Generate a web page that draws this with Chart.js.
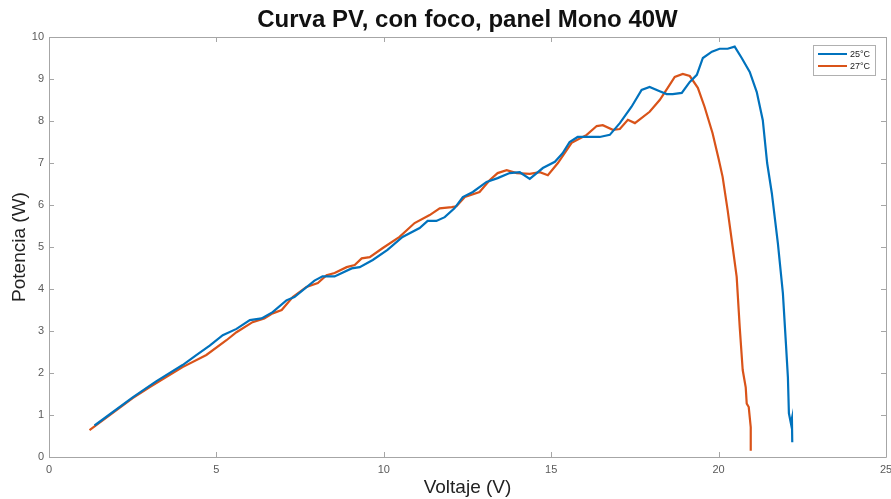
<!DOCTYPE html>
<html>
<head>
<meta charset="utf-8">
<script src="https://cdn.jsdelivr.net/npm/chart.js@4.4.1/dist/chart.umd.min.js"></script>
<style>
  html, body { margin: 0; padding: 0; background: #fff; }
  #wrap { width: 891px; height: 499px; position: relative; }
</style>
</head>
<body>
<div id="wrap"><canvas id="pvChart"></canvas></div>
<script>
const seriesLabels = ['25°C', '27°C'];
const seriesColors = ['#0072BD', '#D95319'];

// 25°C sweep
const volt25 = [1.36, 2.5, 3.2, 3.99, 4.41, 4.8, 5.19, 5.6, 6.0, 6.35, 6.68, 7.09, 7.33, 7.93, 8.17, 8.53,
  9.04, 9.28, 9.67, 10.11, 10.56, 11.07, 11.31, 11.57, 11.82, 12.11, 12.36, 12.66, 13.07, 13.4, 13.76,
  14.06, 14.36, 14.75, 15.11, 15.34, 15.55, 15.79, 16.45, 16.75, 17.05, 17.4, 17.7, 17.94, 18.24, 18.45,
  18.63, 18.9, 19.14, 19.35, 19.53, 19.8, 20.03, 20.27, 20.48, 20.69, 20.93, 21.14, 21.32, 21.45, 21.59,
  21.77, 21.92, 22.01, 22.07, 22.1, 22.16, 22.19, 22.2];
const pot25 = [0.75, 1.42, 1.8, 2.19, 2.43, 2.65, 2.9, 3.05, 3.26, 3.3, 3.45, 3.73, 3.81, 4.2, 4.3, 4.3,
  4.49, 4.52, 4.69, 4.93, 5.24, 5.45, 5.62, 5.62, 5.71, 5.92, 6.19, 6.31, 6.55, 6.64, 6.76,
  6.78, 6.62, 6.88, 7.03, 7.23, 7.5, 7.62, 7.62, 7.67, 7.95, 8.34, 8.74, 8.81, 8.71, 8.64,
  8.64, 8.67, 8.93, 9.1, 9.5, 9.65, 9.72, 9.72, 9.77, 9.5, 9.17, 8.69, 8.02, 7.0, 6.28,
  5.09, 3.9, 2.71, 1.9, 1.04, 0.8, 0.92, 0.35];

// 27°C sweep
const volt27 = [1.21, 2.5, 3.0, 3.99, 4.7, 5.3, 5.6, 6.08, 6.43, 6.68, 6.95, 7.28, 7.69, 8.03, 8.29, 8.53,
  8.89, 9.13, 9.34, 9.58, 9.96, 10.47, 10.92, 11.37, 11.67, 12.03, 12.17, 12.42, 12.86, 13.16, 13.4,
  13.67, 13.97, 14.36, 14.66, 14.9, 15.2, 15.61, 16.06, 16.36, 16.54, 16.84, 17.05, 17.29, 17.5, 17.94,
  18.24, 18.48, 18.69, 18.93, 19.14, 19.38, 19.58, 19.82, 20.0, 20.12, 20.27, 20.42, 20.54, 20.63, 20.72,
  20.81, 20.84, 20.9, 20.96, 20.96];
const pot27 = [0.64, 1.4, 1.66, 2.14, 2.43, 2.78, 2.97, 3.21, 3.3, 3.42, 3.5, 3.81, 4.05, 4.14, 4.33, 4.38,
  4.52, 4.57, 4.73, 4.76, 4.97, 5.24, 5.57, 5.76, 5.92, 5.95, 5.97, 6.19, 6.31, 6.59, 6.76,
  6.83, 6.76, 6.74, 6.78, 6.71, 7.0, 7.48, 7.67, 7.88, 7.9, 7.79, 7.81, 8.03, 7.95, 8.22,
  8.5, 8.79, 9.05, 9.12, 9.07, 8.79, 8.34, 7.71, 7.1, 6.67, 5.88, 5.0, 4.29, 3.1, 2.07,
  1.66, 1.27, 1.19, 0.71, 0.15];

const xTicks = [0, 5, 10, 15, 20, 25];
const yTicks = [0, 1, 2, 3, 4, 5, 6, 7, 8, 9, 10];

const toPoints = (xs, ys) => xs.map((x, i) => ({ x: x, y: ys[i] }));

const fontFamily = '"Liberation Sans", Arial, sans-serif';
const axisGray = '#a6a6a6';
const labelGray = '#5a5a5a';

// box around the plot, inward ticks on all four sides, title and legend
const framePlugin = {
  id: 'frame',
  afterDraw(chart) {
    const { ctx, chartArea: a, scales } = chart;
    ctx.save();
    ctx.strokeStyle = axisGray;
    ctx.lineWidth = 1;
    ctx.beginPath();
    ctx.rect(a.left + 0.5, a.top + 0.5, a.right - a.left, a.bottom - a.top);
    ctx.stroke();
    const len = 5;
    ctx.beginPath();
    xTicks.forEach(v => {
      const px = Math.round(scales.x.getPixelForValue(v)) + 0.5;
      ctx.moveTo(px, a.bottom); ctx.lineTo(px, a.bottom - len);
      ctx.moveTo(px, a.top); ctx.lineTo(px, a.top + len);
    });
    yTicks.forEach(v => {
      const py = Math.round(scales.y.getPixelForValue(v)) + 0.5;
      ctx.moveTo(a.left, py); ctx.lineTo(a.left + len, py);
      ctx.moveTo(a.right, py); ctx.lineTo(a.right - len, py);
    });
    ctx.stroke();

    // title
    ctx.fillStyle = '#111';
    ctx.font = 'bold 24px ' + fontFamily;
    ctx.textAlign = 'center';
    ctx.textBaseline = 'middle';
    ctx.fillText('Curva PV, con foco, panel Mono 40W', (a.left + a.right) / 2, 20.5);

    // legend box in the upper right corner
    const bx = a.right - 73, by = a.top + 8, bw = 62, bh = 30;
    ctx.fillStyle = '#fff';
    ctx.fillRect(bx, by, bw, bh);
    ctx.strokeStyle = '#b0b0b0';
    ctx.lineWidth = 1;
    ctx.strokeRect(bx + 0.5, by + 0.5, bw, bh);
    ctx.font = '9px ' + fontFamily;
    ctx.textAlign = 'left';
    chart.data.datasets.forEach((ds, i) => {
      const y = by + 9 + i * 12;
      ctx.strokeStyle = ds.borderColor;
      ctx.lineWidth = 2;
      ctx.beginPath();
      ctx.moveTo(bx + 5, y); ctx.lineTo(bx + 34, y);
      ctx.stroke();
      ctx.fillStyle = '#222';
      ctx.fillText(ds.label, bx + 37, y + 1);
    });
    ctx.restore();
  }
};

new Chart(document.getElementById('pvChart'), {
  type: 'line',
  data: {
    datasets: [
      { label: seriesLabels[0], data: toPoints(volt25, pot25), borderColor: seriesColors[0] },
      { label: seriesLabels[1], data: toPoints(volt27, pot27), borderColor: seriesColors[1] }
    ]
  },
  options: {
    responsive: true,
    maintainAspectRatio: false,
    animation: false,
    events: [],
    layout: { padding: { top: 37, right: 5, left: 0, bottom: 0 } },
    elements: {
      line: { borderWidth: 2.2, tension: 0, fill: false },
      point: { radius: 0 }
    },
    plugins: {
      legend: { display: false },
      tooltip: { enabled: false },
      title: { display: false }
    },
    scales: {
      x: {
        type: 'linear',
        min: 0, max: 25,
        afterBuildTicks: s => { s.ticks = xTicks.map(v => ({ value: v })); },
        afterFit: s => { s.height = 42; s.paddingLeft = 0; s.paddingRight = 0; },
        grid: { display: false, drawTicks: false },
        border: { display: false },
        ticks: { padding: 6, color: labelGray, font: { size: 11, family: fontFamily }, maxRotation: 0 },
        title: {
          display: true, text: 'Voltaje (V)', color: '#222',
          font: { size: 19, family: fontFamily },
          padding: { top: 0, bottom: 0 }
        }
      },
      y: {
        min: 0, max: 10,
        afterBuildTicks: s => { s.ticks = yTicks.map(v => ({ value: v })); },
        afterFit: s => { s.width = 49; s.paddingTop = 0; s.paddingBottom = 0; },
        grid: { display: false, drawTicks: false },
        border: { display: false },
        ticks: { padding: 5, color: labelGray, font: { size: 11, family: fontFamily } },
        title: {
          display: true, text: 'Potencia (W)', color: '#222',
          font: { size: 19, family: fontFamily },
          padding: { top: 8, bottom: 0 }
        }
      }
    }
  },
  plugins: [framePlugin]
});
</script>
</body>
</html>
